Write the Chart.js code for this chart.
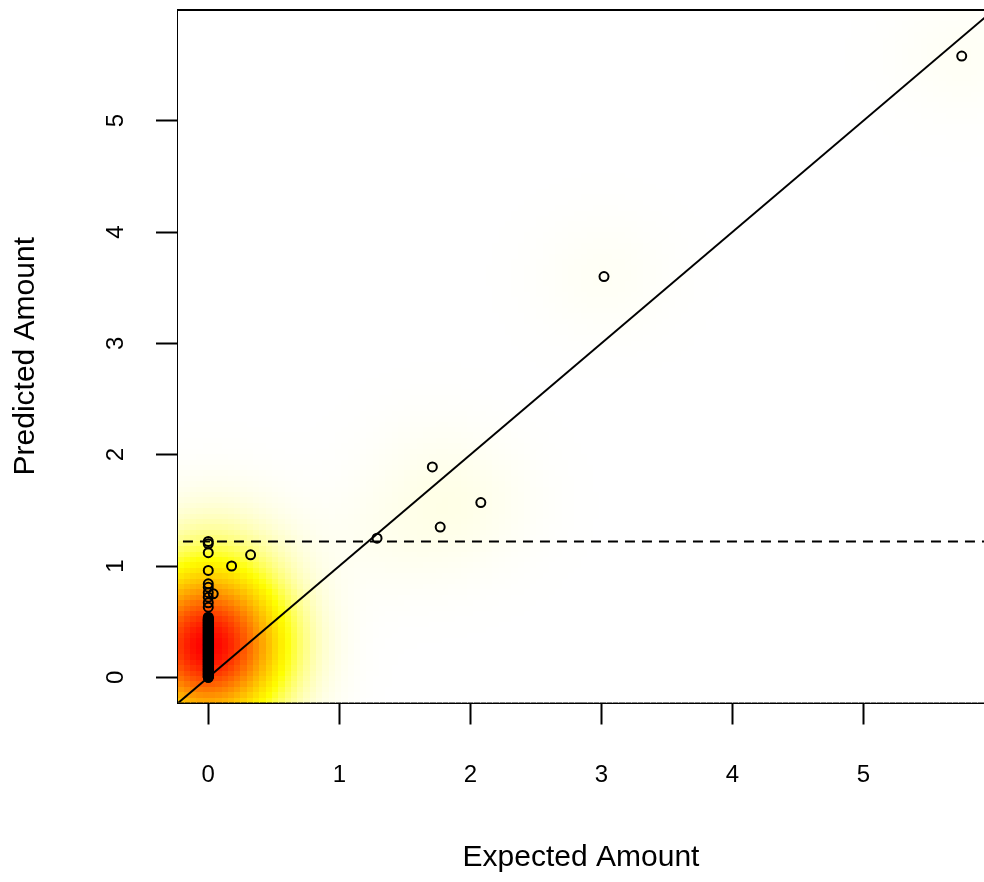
<!DOCTYPE html>
<html>
<head>
<meta charset="utf-8">
<script src="https://cdn.jsdelivr.net/npm/chart.js@4.4.1/dist/chart.umd.min.js"></script>
<style>
html,body{margin:0;padding:0;background:#fff;overflow:hidden;}
canvas{display:block;}
</style>
</head>
<body>
<canvas id="c" width="984" height="882"></canvas>
<script>
// ---- data ----
// dense column of cases with expected amount 0
const zeroColumnPredicted = [
  0.000,0.000,0.005,0.010,0.015,0.020,0.025,0.030,0.035,0.040,
  0.045,0.050,0.055,0.060,0.065,0.070,0.075,0.080,0.085,0.090,
  0.095,0.100,0.105,0.110,0.115,0.120,0.125,0.130,0.135,0.140,
  0.145,0.150,0.155,0.160,0.165,0.170,0.175,0.180,0.185,0.190,
  0.195,0.200,0.205,0.210,0.215,0.220,0.225,0.230,0.235,0.240,
  0.245,0.250,0.255,0.260,0.265,0.270,0.275,0.280,0.285,0.290,
  0.295,0.300,0.305,0.310,0.315,0.320,0.325,0.330,0.335,0.340,
  0.345,0.350,0.355,0.360,0.365,0.370,0.375,0.380,0.385,0.390,
  0.395,0.400,0.405,0.410,0.415,0.420,0.425,0.430,0.435,0.440,
  0.445,0.450,0.455,0.460,0.465,0.470,0.475,0.480,0.485,0.490,
  0.495,0.500,0.505,0.510,0.515,0.520,0.525,0.530,0.540,
  0.63,0.67,0.72,0.76,0.81,0.84,0.96,1.12,1.20,1.22
];
// remaining cases
const otherExpected  = [0.038, 0.178, 0.323, 1.288, 1.71, 1.77, 2.08, 3.02, 5.75];
const otherPredicted = [0.75,  1.00,  1.10,  1.25,  1.89, 1.35, 1.57, 3.60, 5.58];
const xTicks = [0,1,2,3,4,5];
const yTicks = [0,1,2,3,4,5];
const thresholdY = 1.22;
const xRange = [-0.231, 5.92];
const yRange = [-0.226, 5.994];

const FONT = "'Liberation Sans', Arial, Helvetica, sans-serif";
const points = zeroColumnPredicted.map(v=>({x:0, y:v}))
  .concat(otherExpected.map((v,i)=>({x:v, y:otherPredicted[i]})));
const diagLine = [{x:xRange[0]-1, y:xRange[0]-1},{x:xRange[1]+1, y:xRange[1]+1}];
const hLine = [{x:xRange[0]-1, y:thresholdY},{x:xRange[1]+1, y:thresholdY}];

// colour ramp: white -> yellow -> orange -> red
function ramp(t){
  const ys = 0.25;
  if (t < ys){ return [255, 255, Math.round(255*(1 - t/ys))]; }
  return [255, Math.round(255*(1 - (t-ys)/(1-ys))), 0];
}

// smoothed density background (computed from the data points)
const heatPlugin = {
  id:'heat',
  beforeDatasetsDraw(chart){
    const {ctx, chartArea:a, scales:{x, y}} = chart;
    const nb = 128, bx = 0.36, by = 0.38;
    const x0 = x.min, x1 = x.max, y0 = y.min, y1 = y.max;
    const dx = (x1-x0)/nb, dy = (y1-y0)/nb;
    const g = new Float64Array(nb*nb); let mx = 0;
    for (let i=0;i<nb;i++){
      const cx = x0+(i+0.5)*dx;
      for (let j=0;j<nb;j++){
        const cy = y0+(j+0.5)*dy;
        let d = 0;
        for (const p of points){
          const ux = (cx-p.x)/bx, uy = (cy-p.y)/by;
          d += Math.exp(-0.5*(ux*ux+uy*uy));
        }
        g[i*nb+j] = d; if (d>mx) mx = d;
      }
    }
    ctx.save();
    ctx.beginPath(); ctx.rect(a.left, a.top, a.right-a.left, a.bottom-a.top); ctx.clip();
    for (let i=0;i<nb;i++){
      const pxL = Math.floor(x.getPixelForValue(x0+i*dx));
      const pxR = Math.ceil(x.getPixelForValue(x0+(i+1)*dx));
      for (let j=0;j<nb;j++){
        const c = ramp(g[i*nb+j]/mx);
        const pyT = Math.floor(y.getPixelForValue(y0+(j+1)*dy));
        const pyB = Math.ceil(y.getPixelForValue(y0+j*dy));
        ctx.fillStyle = `rgb(${c[0]},${c[1]},${c[2]})`;
        ctx.fillRect(pxL, pyT, pxR-pxL, pyB-pyT);
      }
    }
    ctx.restore();
  },
  afterDraw(chart){
    const {ctx, chartArea:a} = chart;
    ctx.save();
    ctx.strokeStyle = '#000'; ctx.lineWidth = 2;
    ctx.beginPath(); ctx.moveTo(a.left-1, a.top); ctx.lineTo(a.right, a.top); ctx.stroke();
    ctx.restore();
  }
};

new Chart(document.getElementById('c'), {
  type:'scatter',
  data:{datasets:[
    {type:'scatter', data:points, pointRadius:4.5, pointHoverRadius:4.5, pointBorderWidth:2,
     borderColor:'#000', backgroundColor:'rgba(0,0,0,0)', order:3},
    {type:'line', data:diagLine, borderColor:'#000', borderWidth:2, pointRadius:0, fill:false, clip:0, order:2},
    {type:'line', data:hLine, borderColor:'#000', borderWidth:2, borderDash:[10,7], pointRadius:0, fill:false, clip:0, order:1}
  ]},
  options:{
    responsive:false, animation:false, devicePixelRatio:1,
    events:[],
    layout:{autoPadding:false, padding:{left:0, right:0, top:10, bottom:0}},
    plugins:{legend:{display:false}, tooltip:{enabled:false}},
    scales:{
      x:{
        type:'linear', min:xRange[0], max:xRange[1],
        afterFit(s){ s.height = 179.5; s.paddingLeft = 0; s.paddingRight = 0; s.paddingTop = 0; s.paddingBottom = 0; },
        afterBuildTicks(s){ s.ticks = xTicks.map(v=>({value:v})); },
        grid:{drawOnChartArea:false, drawTicks:true, tickLength:22, tickWidth:2, tickColor:'#000'},
        border:{display:true, color:'#000', width:2},
        ticks:{font:{family:FONT, size:24}, color:'#000', padding:36, maxRotation:0, minRotation:0, autoSkip:false, includeBounds:false},
        title:{display:true, text:'Expected Amount', color:'#000', font:{family:FONT, size:30}, padding:{top:0, bottom:6}}
      },
      y:{
        type:'linear', min:yRange[0], max:yRange[1],
        afterFit(s){ s.width = 178; s.paddingLeft = 0; s.paddingRight = 0; s.paddingTop = 0; s.paddingBottom = 0; },
        afterBuildTicks(s){ s.ticks = yTicks.map(v=>({value:v})); },
        grid:{drawOnChartArea:false, drawTicks:true, tickLength:22, tickWidth:2, tickColor:'#000'},
        border:{display:true, color:'#000', width:2},
        ticks:{font:{family:FONT, size:24}, color:'#000', padding:33, minRotation:90, maxRotation:90, crossAlign:'center', autoSkip:false, includeBounds:false},
        title:{display:true, text:'Predicted Amount', color:'#000', font:{family:FONT, size:30}, padding:{top:8, bottom:0}}
      }
    }
  },
  plugins:[heatPlugin]
});
</script>
</body>
</html>
